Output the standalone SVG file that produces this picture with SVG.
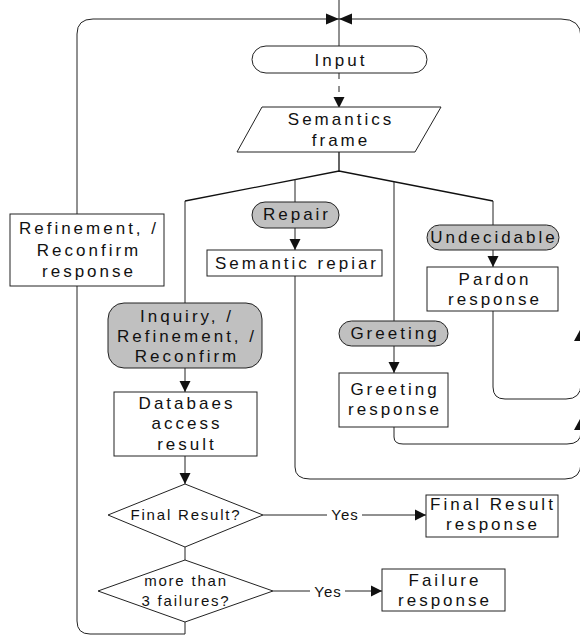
<svg xmlns="http://www.w3.org/2000/svg" width="580" height="635" viewBox="0 0 580 635">
<style>
.s{fill:#fff;stroke:#222;stroke-width:1}
.g{fill:#c0c0c0;stroke:#222;stroke-width:1}
.l{fill:none;stroke:#222;stroke-width:1}
.b{fill:none;stroke:#111;stroke-width:1.3}
text{font-family:"Liberation Sans",Arial,sans-serif;fill:#111;text-anchor:middle}
.t{font-size:17px;letter-spacing:3px}
.d{font-size:15px;letter-spacing:1.8px}
.y{font-size:15px;letter-spacing:1px}
.ah{fill:#111}
</style>
<defs>
<marker id="ar" markerUnits="userSpaceOnUse" markerWidth="12" markerHeight="12" refX="11" refY="6" orient="auto">
<path d="M0,0.5 L11,6 L0,11.5 z" fill="#111"/>
</marker>
</defs>
<g id="connectors">
<line class="l" x1="339" y1="0" x2="339" y2="46"/>
<line class="l" x1="339" y1="73" x2="339" y2="108" stroke-dasharray="6,7" marker-end="url(#ar)"/>
<line class="b" x1="339" y1="152" x2="339" y2="171"/>
<polyline class="b" points="185,201 339,171 493,201"/>
<line class="l" x1="185" y1="201" x2="185" y2="303"/>
<line class="l" x1="295" y1="179" x2="295" y2="202"/>
<line class="l" x1="394" y1="182" x2="394" y2="321"/>
<line class="l" x1="493" y1="201" x2="493" y2="225"/>
<line class="l" x1="295" y1="228" x2="295" y2="250" marker-end="url(#ar)"/>
<line class="l" x1="493" y1="250" x2="493" y2="267" marker-end="url(#ar)"/>
<line class="l" x1="394" y1="346" x2="394" y2="373" marker-end="url(#ar)"/>
<line class="l" x1="185" y1="368" x2="185" y2="392" marker-end="url(#ar)"/>
<line class="l" x1="185" y1="456" x2="185" y2="484" marker-end="url(#ar)"/>
<line class="l" x1="185" y1="547" x2="185" y2="560"/>
<line class="l" x1="263" y1="515" x2="327" y2="515"/>
<line class="l" x1="362" y1="515" x2="426" y2="515" marker-end="url(#ar)"/>
<line class="l" x1="273" y1="591" x2="310" y2="591"/>
<line class="l" x1="345" y1="591" x2="382" y2="591" marker-end="url(#ar)"/>
<path class="l" d="M185,622 V634 H90 Q77,634 77,621 V34 Q77,19 93,19 H339"/>
<path class="l" d="M339,19 H561 Q581,19 581,37 V470"/>
<path class="l" d="M493,311 V387 Q493,399 505,399 H566 Q581,399 581,384 V330"/>
<path class="l" d="M394,427 V437 Q394,444 403,444 H567 Q581,444 581,432 V420"/>
<path class="l" d="M295,276 V467 Q295,479 310,479 H565 Q581,479 581,463"/>
<polygon class="ah" points="339,19 326,13.5 326,24.5"/>
<polygon class="ah" points="339,19 352,13.5 352,24.5"/>
<polygon class="ah" points="580,330 574,341 586,341"/>
<polygon class="ah" points="580,419 574,430 586,430"/>
</g>
<g id="input"><rect class="s" x="252" y="46" width="175" height="27" rx="14" ry="13.5"/><text class="t" x="341" y="66">Input</text></g>
<g id="semantics-frame"><polygon class="s" points="262,107 441,107 415,152 237,152"/><text class="t" x="341" y="125">Semantics</text><text class="t" x="341" y="146">frame</text></g>
<g id="repair"><rect class="g" x="252" y="202" width="87" height="26" rx="13"/><text class="t" x="297" y="220">Repair</text></g>
<g id="semantic-repair"><rect class="s" x="207" y="250" width="175" height="26"/><text class="t" x="297" y="269">Semantic repiar</text></g>
<g id="undecidable"><rect class="g" x="427" y="225" width="132" height="25" rx="12.5"/><text class="t" x="494" y="243">Undecidable</text></g>
<g id="pardon-response"><rect class="s" x="427" y="267" width="131" height="44"/><text class="t" x="495" y="285">Pardon</text><text class="t" x="495" y="305">response</text></g>
<g id="refinement-response"><rect class="s" x="10" y="214" width="154" height="72"/><text class="t" x="89" y="234">Refinement, /</text><text class="t" x="89" y="256">Reconfirm</text><text class="t" x="89" y="277">response</text></g>
<g id="inquiry"><rect class="g" x="108" y="303" width="154" height="65" rx="16"/><text class="t" x="187" y="322">Inquiry, /</text><text class="t" x="187" y="342">Refinement, /</text><text class="t" x="187" y="362">Reconfirm</text></g>
<g id="database-result"><rect class="s" x="114" y="392" width="143" height="64"/><text class="t" x="187" y="409">Databaes</text><text class="t" x="187" y="429">access</text><text class="t" x="187" y="450">result</text></g>
<g id="greeting"><rect class="g" x="339" y="321" width="109" height="25" rx="12.5"/><text class="t" x="395" y="339">Greeting</text></g>
<g id="greeting-response"><rect class="s" x="339" y="373" width="109" height="54"/><text class="t" x="395" y="395">Greeting</text><text class="t" x="395" y="415">response</text></g>
<g id="final-result-q"><polygon class="s" points="185,484 263,515 185,547 108,515"/><text class="d" x="186" y="520">Final Result?</text></g>
<g id="yes1"><text class="y" x="345" y="520">Yes</text></g>
<g id="final-result-response"><rect class="s" x="426" y="495" width="132" height="42"/><text class="t" x="493" y="510">Final Result</text><text class="t" x="493" y="530">response</text></g>
<g id="failures-q"><polygon class="s" points="185,560 273,591 185,622 98,591"/><text class="d" x="186" y="586">more than</text><text class="d" x="186" y="606">3 failures?</text></g>
<g id="yes2"><text class="y" x="328" y="597">Yes</text></g>
<g id="failure-response"><rect class="s" x="382" y="569" width="123" height="42"/><text class="t" x="445" y="586">Failure</text><text class="t" x="445" y="606">response</text></g>
</svg>
